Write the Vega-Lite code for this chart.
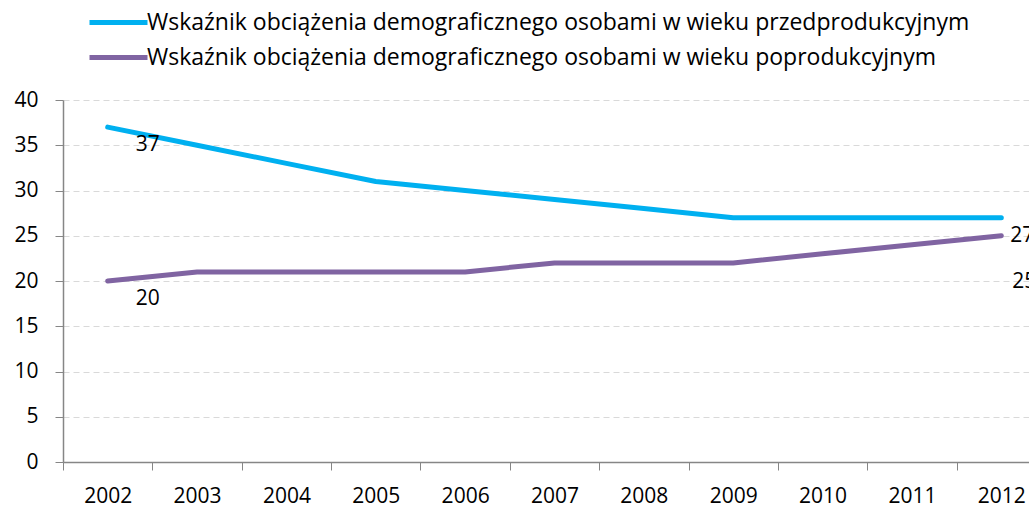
{
  "$schema": "https://vega.github.io/schema/vega-lite/v6.json",
  "width": 983,
  "height": 362,
  "autosize": {"type": "none"},
  "padding": {"left": 63, "top": 100, "right": 0, "bottom": 46},
  "background": "white",
  "config": {
    "view": {"stroke": null},
    "font": "Open Sans"
  },
  "data": {
    "values": [
      {"year": "2002", "series": "Wskaźnik obciążenia demograficznego osobami w wieku przedprodukcyjnym", "value": 37},
      {"year": "2003", "series": "Wskaźnik obciążenia demograficznego osobami w wieku przedprodukcyjnym", "value": 35},
      {"year": "2004", "series": "Wskaźnik obciążenia demograficznego osobami w wieku przedprodukcyjnym", "value": 33},
      {"year": "2005", "series": "Wskaźnik obciążenia demograficznego osobami w wieku przedprodukcyjnym", "value": 31},
      {"year": "2006", "series": "Wskaźnik obciążenia demograficznego osobami w wieku przedprodukcyjnym", "value": 30},
      {"year": "2007", "series": "Wskaźnik obciążenia demograficznego osobami w wieku przedprodukcyjnym", "value": 29},
      {"year": "2008", "series": "Wskaźnik obciążenia demograficznego osobami w wieku przedprodukcyjnym", "value": 28},
      {"year": "2009", "series": "Wskaźnik obciążenia demograficznego osobami w wieku przedprodukcyjnym", "value": 27},
      {"year": "2010", "series": "Wskaźnik obciążenia demograficznego osobami w wieku przedprodukcyjnym", "value": 27},
      {"year": "2011", "series": "Wskaźnik obciążenia demograficznego osobami w wieku przedprodukcyjnym", "value": 27},
      {"year": "2012", "series": "Wskaźnik obciążenia demograficznego osobami w wieku przedprodukcyjnym", "value": 27},
      {"year": "2002", "series": "Wskaźnik obciążenia demograficznego osobami w wieku poprodukcyjnym", "value": 20},
      {"year": "2003", "series": "Wskaźnik obciążenia demograficznego osobami w wieku poprodukcyjnym", "value": 21},
      {"year": "2004", "series": "Wskaźnik obciążenia demograficznego osobami w wieku poprodukcyjnym", "value": 21},
      {"year": "2005", "series": "Wskaźnik obciążenia demograficznego osobami w wieku poprodukcyjnym", "value": 21},
      {"year": "2006", "series": "Wskaźnik obciążenia demograficznego osobami w wieku poprodukcyjnym", "value": 21},
      {"year": "2007", "series": "Wskaźnik obciążenia demograficznego osobami w wieku poprodukcyjnym", "value": 22},
      {"year": "2008", "series": "Wskaźnik obciążenia demograficznego osobami w wieku poprodukcyjnym", "value": 22},
      {"year": "2009", "series": "Wskaźnik obciążenia demograficznego osobami w wieku poprodukcyjnym", "value": 22},
      {"year": "2010", "series": "Wskaźnik obciążenia demograficznego osobami w wieku poprodukcyjnym", "value": 23},
      {"year": "2011", "series": "Wskaźnik obciążenia demograficznego osobami w wieku poprodukcyjnym", "value": 24},
      {"year": "2012", "series": "Wskaźnik obciążenia demograficznego osobami w wieku poprodukcyjnym", "value": 25}
    ]
  },
  "encoding": {
    "x": {
      "field": "year",
      "type": "ordinal",
      "scale": {"type": "band", "paddingInner": 0, "paddingOuter": 0},
      "axis": {
        "title": null,
        "labelAngle": 0,
        "labelFontSize": 21,
        "labelColor": "#000000",
        "labelPadding": 15,
        "tickBand": "extent",
        "tickColor": "#868686",
        "tickSize": 8,
        "domainColor": "#868686",
        "domainWidth": 1.5,
        "grid": false
      }
    },
    "y": {
      "field": "value",
      "type": "quantitative",
      "scale": {"domain": [0, 40], "nice": false},
      "axis": {
        "title": null,
        "values": [0, 5, 10, 15, 20, 25, 30, 35, 40],
        "labelFontSize": 21,
        "labelColor": "#000000",
        "labelPadding": 17,
        "tickColor": "#868686",
        "tickSize": 8,
        "domainColor": "#868686",
        "domainWidth": 1.5,
        "gridColor": "#D9D9D9",
        "gridDash": [6, 4],
        "gridWidth": 1.2
      }
    }
  },
  "layer": [
    {
      "transform": [{"filter": {"field": "series", "equal": "Wskaźnik obciążenia demograficznego osobami w wieku przedprodukcyjnym"}}],
      "mark": {"type": "line", "strokeWidth": 5, "strokeCap": "round", "strokeJoin": "round"},
      "encoding": {
        "color": {
          "field": "series",
          "type": "nominal",
          "scale": {
            "domain": ["Wskaźnik obciążenia demograficznego osobami w wieku przedprodukcyjnym"],
            "range": ["#00B0F0"]
          },
          "legend": {
            "title": null,
            "orient": "none",
            "legendX": 24,
            "legendY": -109,
            "direction": "vertical",
            "symbolType": "M-1,0H1",
            "symbolSize": 3364,
            "symbolStrokeWidth": 5,
            "labelFontSize": 23,
            "labelColor": "#000000",
            "labelOffset": -3,
            "labelLimit": 1000
          }
        }
      }
    },
    {
      "transform": [{"filter": {"field": "series", "equal": "Wskaźnik obciążenia demograficznego osobami w wieku poprodukcyjnym"}}],
      "mark": {"type": "line", "strokeWidth": 5, "strokeCap": "round", "strokeJoin": "round"},
      "encoding": {
        "color": {
          "field": "series",
          "type": "nominal",
          "scale": {
            "domain": ["Wskaźnik obciążenia demograficznego osobami w wieku poprodukcyjnym"],
            "range": ["#8064A2"]
          },
          "legend": {
            "title": null,
            "orient": "none",
            "legendX": 24,
            "legendY": -74,
            "direction": "vertical",
            "symbolType": "M-1,0H1",
            "symbolSize": 3364,
            "symbolStrokeWidth": 5,
            "labelFontSize": 23,
            "labelColor": "#000000",
            "labelOffset": -3,
            "labelLimit": 1000
          }
        }
      }
    },
    {
      "transform": [{"filter": "datum.year == '2002'"}],
      "mark": {"type": "text", "fontSize": 21, "color": "#000000", "dx": 40, "dy": 18},
      "encoding": {"text": {"field": "value", "type": "quantitative"}}
    },
    {
      "transform": [{"filter": "datum.year == '2012' && datum.value == 27"}],
      "mark": {"type": "text", "fontSize": 21, "color": "#000000", "dx": 21, "dy": 18},
      "encoding": {"text": {"field": "value", "type": "quantitative"}}
    },
    {
      "transform": [{"filter": "datum.year == '2012' && datum.value == 25"}],
      "mark": {"type": "text", "fontSize": 21, "color": "#000000", "dx": 23, "dy": 46},
      "encoding": {"text": {"field": "value", "type": "quantitative"}}
    }
  ],
  "resolve": {"scale": {"color": "independent"}, "legend": {"color": "independent"}}
}
